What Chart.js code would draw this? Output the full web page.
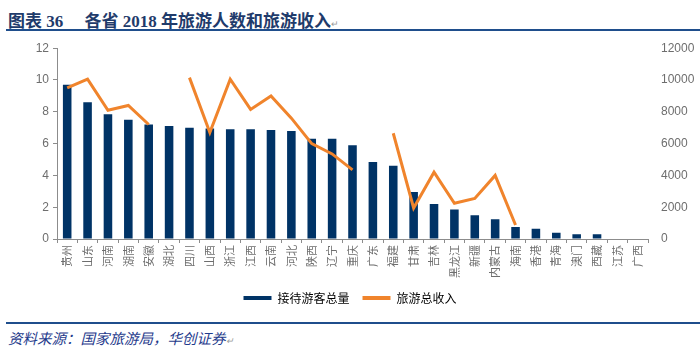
<!DOCTYPE html>
<html>
<head>
<meta charset="utf-8">
<script src="https://cdn.jsdelivr.net/npm/chart.js@4.4.1/dist/chart.umd.min.js"></script>
<style>
  html, body { margin: 0; padding: 0; background: #fff; }
  body { width: 700px; height: 351px; position: relative; overflow: hidden; }
  .title {
    position: absolute; left: 8px; top: 7px;
    font-family: "Liberation Serif", "Noto Sans CJK SC", serif;
    font-weight: bold; font-size: 17px; color: #1f3b6b; white-space: pre;
  }
  .mark { font-size: 9px; color: #999; font-weight: normal; }
  .rule { position: absolute; left: 6px; right: 0; height: 2px; background: #1f4e8c; }
  .source {
    position: absolute; left: 8px; top: 327px;
    font-family: "Noto Sans CJK SC", sans-serif; font-style: italic;
    font-size: 14.5px; color: #1f3b8c;
  }
  .wrap { position: absolute; left: 0; top: 36px; width: 700px; height: 278px; }
</style>
</head>
<body>
<div class="title">图表 36     各省 2018 年旅游人数和旅游收入<span class="mark">↵</span></div>
<div class="rule" style="top:29px"></div>
<div class="wrap"><canvas id="chart"></canvas></div>
<div class="rule" style="top:322px"></div>
<div class="source">资料来源：国家旅游局，华创证券<span class="mark">↵</span></div>

<script>
// ---- data ----
const provinces = ['贵州', '山东', '河南', '湖南', '安徽', '湖北', '四川', '山西', '浙江', '江西',
  '云南', '河北', '陕西', '辽宁', '重庆', '广东', '福建', '甘肃', '吉林', '黑龙江',
  '新疆', '内蒙古', '海南', '香港', '青海', '澳门', '西藏', '江苏', '广西'];

// 接待游客总量 (left axis)
const visitors = [9.7, 8.6, 7.85, 7.5, 7.2, 7.1, 7.0, 6.95, 6.9, 6.9,
  6.85, 6.8, 6.3, 6.3, 5.9, 4.85, 4.6, 2.95, 2.2, 1.85,
  1.5, 1.25, 0.75, 0.65, 0.4, 0.3, 0.3, null, null];

// 旅游总收入 (right axis), gaps where no value
const revenue = [9500, 10050, 8100, 8400, 7200, null, 10150, 6700, 10050, 8150,
  9000, 7600, 6000, 5350, 4350, null, 6650, 1950, 4200, 2250,
  2550, 4000, 880, null, null, null, null, null, null];

const leftTicks = [0, 2, 4, 6, 8, 10, 12];
const rightTicks = [0, 2000, 4000, 6000, 8000, 10000, 12000];

const navy = '#003366';
const orange = '#F0842C';
const axisGray = '#8c8c8c';
const labelGray = '#6e6e6e';

new Chart(document.getElementById('chart'), {
  type: 'bar',
  data: {
    labels: provinces,
    datasets: [
      {
        label: '接待游客总量',
        data: visitors,
        backgroundColor: navy,
        borderWidth: 0,
        barPercentage: 0.42,
        categoryPercentage: 1,
        yAxisID: 'y',
        order: 2
      },
      {
        type: 'line',
        label: '旅游总收入',
        data: revenue,
        borderColor: orange,
        backgroundColor: orange,
        borderWidth: 3,
        pointRadius: 0,
        tension: 0,
        spanGaps: false,
        yAxisID: 'y1',
        order: 1
      }
    ]
  },
  options: {
    responsive: true,
    maintainAspectRatio: false,
    animation: false,
    layout: { padding: { top: 2, right: 0, left: 0, bottom: 0 } },
    plugins: {
      tooltip: { enabled: false },
      legend: {
        position: 'bottom',
        labels: {
          boxWidth: 28,
          boxHeight: 4,
          padding: 13,
          color: labelGray,
          font: { family: "'Noto Sans CJK SC', sans-serif", size: 12 },
          generateLabels: chart => chart.data.datasets.map((ds, i) => ({
            text: ds.label,
            fillStyle: ds.type === 'line' ? ds.borderColor : ds.backgroundColor,
            strokeStyle: ds.type === 'line' ? ds.borderColor : ds.backgroundColor,
            lineWidth: 0,
            datasetIndex: i
          }))
        }
      }
    },
    scales: {
      x: {
        grid: { display: true, drawOnChartArea: false, drawTicks: true, tickLength: 4, color: axisGray, offset: true },
        border: { display: true, color: axisGray },
        ticks: {
          autoSkip: false,
          maxRotation: 90,
          minRotation: 90,
          padding: 2,
          color: labelGray,
          font: { family: "'Noto Sans CJK SC', sans-serif", size: 11 }
        },
        afterFit: axis => { axis.height = 40; }
      },
      y: {
        position: 'left',
        min: 0,
        max: 12,
        afterBuildTicks: axis => { axis.ticks = leftTicks.map(v => ({ value: v })); },
        grid: { display: true, drawOnChartArea: false, drawTicks: true, tickLength: 4, color: axisGray },
        border: { display: true, color: axisGray },
        ticks: {
          padding: 4,
          color: labelGray,
          font: { family: "'Liberation Sans', Arial, sans-serif", size: 12 }
        },
        afterFit: axis => { axis.width = 57; }
      },
      y1: {
        position: 'right',
        min: 0,
        max: 12000,
        afterBuildTicks: axis => { axis.ticks = rightTicks.map(v => ({ value: v })); },
        grid: { display: false },
        border: { display: false },
        ticks: {
          padding: 5,
          color: labelGray,
          font: { family: "'Liberation Sans', Arial, sans-serif", size: 12 },
          callback: v => String(v)
        },
        afterFit: axis => { axis.width = 52; }
      }
    }
  }
});
</script>
</body>
</html>
